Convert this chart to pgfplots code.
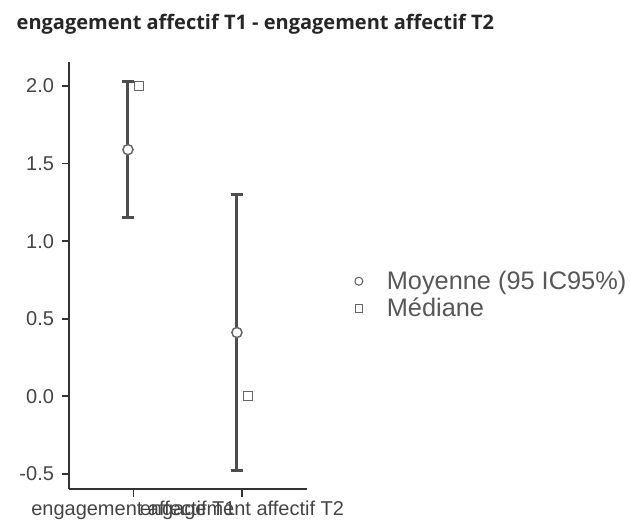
\documentclass[border=0pt]{standalone}
\usepackage{pgfplots}
\pgfplotsset{compat=1.18}
\usepackage{fontspec}
\setmainfont{Liberation Sans}
\newfontfamily\titlefont{Open Sans}

\definecolor{axisgray}{HTML}{333333}
\definecolor{bargray}{HTML}{4D4D4D}
\definecolor{textgray}{HTML}{444444}
\definecolor{markgray}{HTML}{666666}

% mean with 95% CI (plotted slightly left of the category)
\pgfplotstableread{
x      y      ep     em
0.950  1.590  0.440  0.440
1.954  0.411  0.890  0.890
}\meantable
% median (slightly right of the category)
\pgfplotstableread{
x      y
1.050  2.0
2.055  0.0
}\mediantable

\begin{document}
\begin{tikzpicture}
\useasboundingbox (-52pt,-26pt) rectangle (420.5pt,367pt);
\begin{axis}[
    at={(0,0)}, anchor=south west,
    scale only axis,
    width=178.3pt, height=320.5pt,
    xmin=0.41, xmax=2.6,
    ymin=-0.6, ymax=2.155,
    axis lines=left,
    axis line style={-, axisgray, line width=1.3pt},
    tick align=outside,
    major tick length=5.5pt,
    tick style={axisgray, line width=1.3pt},
    xtick={1,2},
    xticklabels={engagement affectif T1, engagement affectif T2},
    ytick={-0.5,0,0.5,1,1.5,2},
    yticklabel style={xshift=-2.5pt, /pgf/number format/.cd, fixed, fixed zerofill, precision=1, assume math mode=true},
    ticklabel style={font=\fontsize{15}{17}\selectfont, text=textgray},
    legend style={at={(1.2,0.455)}, anchor=west, draw=none, fill=none,
        inner sep=0pt, font=\fontsize{19}{19}\selectfont, text=textgray!90,
        row sep=1pt,
        /tikz/every odd column/.append style={column sep=16pt}},
    legend cell align=left,
    clip=false,
]
% error bars first, markers on top
\addplot[forget plot, draw=none, mark=none,
    error bars/.cd, y dir=both, y explicit,
    error bar style={draw=bargray, line width=2.3pt},
    error mark options={draw=bargray, line width=2.3pt, mark size=4.5pt, rotate=90}]
    table[x=x, y=y, y error plus=ep, y error minus=em] {\meantable};
\addplot[forget plot, only marks, mark=*, mark size=3.8pt,
    mark options={fill=white, draw=markgray, line width=1.1pt}]
    table[x=x, y=y] {\meantable};
\addplot[forget plot, only marks, mark=square*, mark size=3.3pt,
    mark options={fill=white, draw=markgray, line width=0.8pt}]
    table[x=x, y=y] {\mediantable};

\addlegendimage{only marks, mark=o, mark size=3pt, markgray, line width=0.8pt}
\addlegendentry{Moyenne (95 IC95\%)}
\addlegendimage{only marks, mark=square, mark size=2.8pt, markgray, line width=0.8pt}
\addlegendentry{Médiane}
\end{axis}
\node[anchor=base west, font=\titlefont\bfseries\fontsize{15}{17}\selectfont, text=black!85]
    at (-43pt,345pt) {engagement affectif T1 - engagement affectif T2};
\end{tikzpicture}
\end{document}
